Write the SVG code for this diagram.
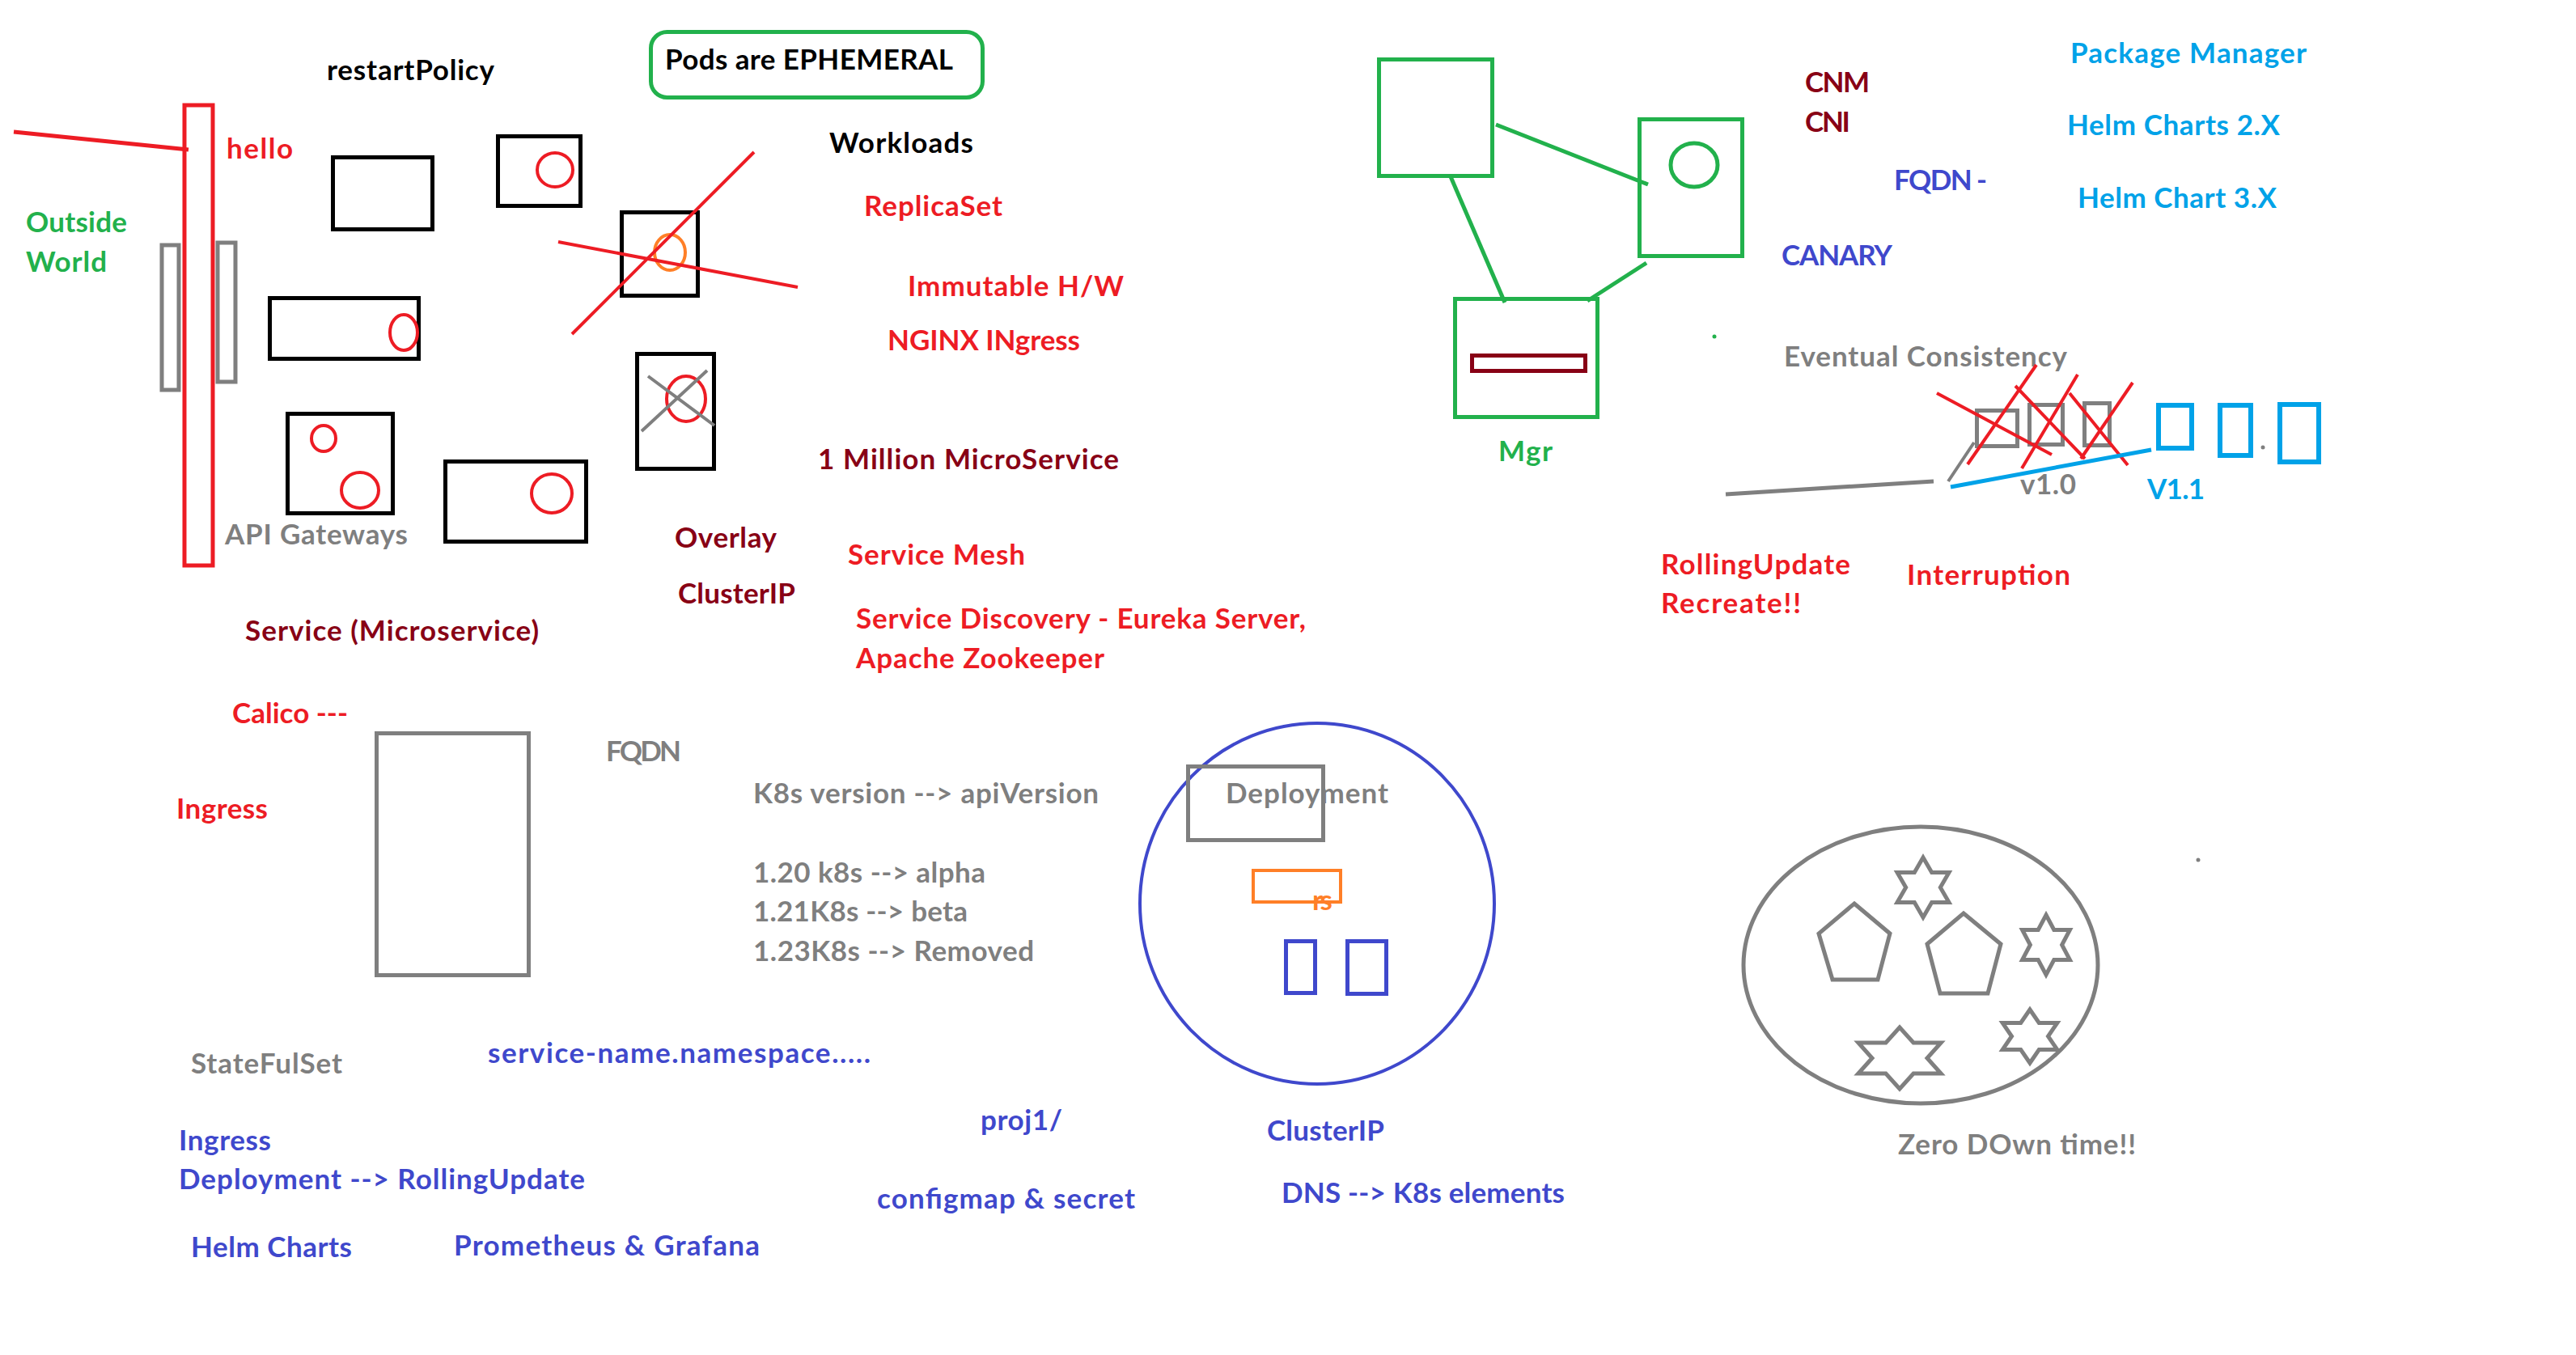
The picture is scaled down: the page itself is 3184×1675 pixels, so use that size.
<svg xmlns="http://www.w3.org/2000/svg" width="3184" height="1675" viewBox="0 0 3184 1675">
<style>
text{font-family:Lato,"Liberation Sans",sans-serif;font-weight:bold;font-size:35px}
.red{fill:#ED1C24}.dred{fill:#880015}.grn{fill:#22B14C}.gry{fill:#7F7F7F}.blu{fill:#3F48CC}.lblu{fill:#00A2E8}.blk{fill:#000}.org{fill:#FF7F27}
.sk{fill:none;stroke:#000;stroke-width:5}
.sr{fill:none;stroke:#ED1C24;stroke-width:5}
.sr4{fill:none;stroke:#ED1C24;stroke-width:4}
.sdr{fill:none;stroke:#880015;stroke-width:5}
.sg{fill:none;stroke:#22B14C;stroke-width:5}
.sgy{fill:none;stroke:#7F7F7F;stroke-width:5}
.sb{fill:none;stroke:#3F48CC;stroke-width:5}
.slb{fill:none;stroke:#00A2E8;stroke-width:6}
.so{fill:none;stroke:#FF7F27;stroke-width:4}
</style>
<rect width="3184" height="1675" fill="#fff"/>

<g id="outside-world">
<text class="grn" x="32" y="287" textLength="125">Outside</text>
<text class="grn" x="32" y="336" textLength="100">World</text>
<line class="sr" x1="17" y1="163" x2="233" y2="185"/>
</g>
<g id="gateway">
<rect class="sr" x="228" y="130" width="35" height="569"/>
<rect class="sgy" x="200" y="303" width="21" height="179"/>
<rect class="sgy" x="269" y="300" width="22" height="172"/>
<text class="red" x="280" y="196" textLength="82">hello</text>
<text class="gry" x="278" y="673" textLength="226">API Gateways</text>
</g>
<g id="restart-policy"><text class="blk" x="404" y="99" textLength="207">restartPolicy</text></g>
<g id="pods-ephemeral">
<rect class="sg" x="804.5" y="39.5" width="410" height="81" rx="20"/>
<text class="blk" x="822" y="86" textLength="356">Pods are EPHEMERAL</text>
</g>

<g id="pods">
<rect class="sk" x="411.5" y="194.5" width="123" height="89"/>
<g id="pod2"><rect class="sk" x="615.5" y="168.5" width="102" height="86"/><ellipse class="sr4" cx="686" cy="210" rx="22" ry="21"/></g>
<g id="pod3"><rect class="sk" x="768.5" y="262.5" width="94" height="103"/><ellipse class="so" cx="828" cy="312" rx="19" ry="22"/>
<line class="sr4" x1="932" y1="188" x2="707" y2="413"/><line class="sr4" x1="690" y1="299" x2="986" y2="355"/></g>
<g id="pod4"><rect class="sk" x="333.5" y="368.5" width="184" height="75"/><ellipse class="sr4" cx="499" cy="411" rx="17" ry="22"/></g>
<g id="pod5"><rect class="sk" x="355.5" y="511.5" width="130" height="123"/><ellipse class="sr4" cx="400" cy="542" rx="15" ry="16"/><ellipse class="sr4" cx="445" cy="606" rx="23" ry="22"/></g>
<g id="pod6"><rect class="sk" x="550.5" y="570.5" width="174" height="99"/><ellipse class="sr4" cx="682" cy="610" rx="25" ry="24"/></g>
<g id="pod7"><rect class="sk" x="787.5" y="437.5" width="95" height="142"/><ellipse class="sr4" cx="848" cy="493" rx="24" ry="28"/>
<line class="sgy" style="stroke-width:4" x1="801" y1="465" x2="883" y2="526"/><line class="sgy" style="stroke-width:4" x1="874" y1="458" x2="793" y2="533"/></g>
</g>

<g id="notes-center">
<text class="blk" x="1025" y="189" textLength="178">Workloads</text>
<text class="red" x="1068" y="267" textLength="171">ReplicaSet</text>
<text class="red" x="1122" y="366" textLength="267">Immutable H/W</text>
<text class="red" x="1097" y="433" textLength="238">NGINX INgress</text>
<text class="dred" x="1011" y="580" textLength="372">1 Million MicroService</text>
<text class="dred" x="834" y="677" textLength="126">Overlay</text>
<text class="dred" x="838" y="746" textLength="145">ClusterIP</text>
<text class="red" x="1048" y="698" textLength="219">Service Mesh</text>
<text class="red" x="1058" y="777" textLength="556">Service Discovery - Eureka Server,</text>
<text class="red" x="1058" y="826" textLength="307">Apache Zookeeper</text>
<text class="dred" x="303" y="792" textLength="363">Service (Microservice)</text>
<text class="red" x="287" y="894" textLength="143">Calico ---</text>
<text class="red" x="218" y="1012" textLength="113">Ingress</text>
</g>

<g id="service-box"><rect class="sgy" x="465.5" y="906.5" width="188" height="299"/></g>
<g id="versions">
<text class="gry" x="749" y="941" textLength="93">FQDN</text>
<text class="gry" x="931" y="993" textLength="427">K8s version --&gt; apiVersion</text>
<text class="gry" x="931" y="1091" textLength="287">1.20 k8s --&gt; alpha</text>
<text class="gry" x="931" y="1139" textLength="265">1.21K8s --&gt; beta</text>
<text class="gry" x="931" y="1188" textLength="347">1.23K8s --&gt; Removed</text>
</g>

<g id="cluster-nodes">
<rect class="sg" x="1704.5" y="73.5" width="140" height="144"/>
<g id="node-b"><rect class="sg" x="2026.5" y="147.5" width="127" height="169"/><ellipse class="sg" cx="2094" cy="204" rx="29" ry="27"/></g>
<g id="mgr"><rect class="sg" x="1798.5" y="369.5" width="176" height="146"/><rect class="sdr" x="1819.5" y="439.5" width="140" height="19"/>
<text class="grn" x="1852" y="570" textLength="67">Mgr</text></g>
<circle cx="2119" cy="416" r="2.5" fill="#22B14C"/>
</g>
<g id="connectors">
<line class="sg" x1="1849" y1="154" x2="2037" y2="228"/>
<line class="sg" x1="1792" y1="216" x2="1860" y2="374"/>
<line class="sg" x1="2035" y1="325" x2="1962" y2="372"/>
</g>

<g id="notes-right">
<text class="dred" x="2231" y="114" textLength="80">CNM</text>
<text class="dred" x="2231" y="163" textLength="56">CNI</text>
<text class="blu" x="2341" y="235" textLength="115">FQDN -</text>
<text class="blu" x="2202" y="328" textLength="137">CANARY</text>
<text class="lblu" x="2559" y="78" textLength="292">Package Manager</text>
<text class="lblu" x="2555" y="167" textLength="263">Helm Charts 2.X</text>
<text class="lblu" x="2568" y="257" textLength="246">Helm Chart 3.X</text>
<text class="gry" x="2205" y="453" textLength="350">Eventual Consistency</text>
<text class="red" x="2053" y="710" textLength="234">RollingUpdate</text>
<text class="red" x="2053" y="758" textLength="173">Recreate!!</text>
<text class="red" x="2357" y="723" textLength="202">Interruption</text>
</g>

<g id="rolling-update">
<rect class="sgy" x="2443.5" y="507.5" width="50" height="44"/>
<rect class="sgy" x="2508.5" y="500.5" width="41" height="49"/>
<rect class="sgy" x="2576.5" y="498.5" width="31" height="52"/>
<line class="sr4" x1="2394" y1="486" x2="2536" y2="562"/>
<line class="sr4" x1="2517" y1="451" x2="2432" y2="574"/>
<line class="sr4" x1="2491" y1="477" x2="2577" y2="567"/>
<line class="sr4" x1="2568" y1="463" x2="2499" y2="579"/>
<line class="sr4" x1="2558" y1="486" x2="2630" y2="575"/>
<line class="sr4" x1="2636" y1="473" x2="2572" y2="567"/>
<line class="sgy" x1="2133" y1="611" x2="2390" y2="595"/>
<line class="sgy" style="stroke-width:4" x1="2408" y1="595" x2="2440" y2="547"/>
<line class="slb" style="stroke-width:5" x1="2411" y1="602" x2="2659" y2="556"/>
<rect class="slb" x="2668" y="501" width="41" height="53"/>
<rect class="slb" x="2744" y="501" width="38" height="62"/>
<rect class="slb" x="2818" y="500" width="48" height="71"/>
<circle cx="2797" cy="553" r="2.5" fill="#7F7F7F"/>
<text class="gry" x="2497" y="611" textLength="69">v1.0</text>
<text class="lblu" x="2654" y="617" textLength="71">V1.1</text>
</g>

<g id="deployment-cluster">
<ellipse class="sb" style="stroke-width:4" cx="1628" cy="1117" rx="219" ry="223"/>
<rect class="sgy" x="1468.5" y="947.5" width="167" height="91"/>
<text class="gry" x="1515" y="993" textLength="201">Deployment</text>
<rect class="so" x="1549" y="1076" width="108" height="39"/>
<text class="org" x="1622" y="1125" textLength="25">rs</text>
<rect class="sb" x="1589.5" y="1163.5" width="36" height="64"/>
<rect class="sb" x="1665.5" y="1163.5" width="48" height="65"/>
</g>

<g id="notes-bottom">
<text class="gry" x="236" y="1327" textLength="187">StateFulSet</text>
<text class="blu" x="603" y="1314" textLength="473">service-name.namespace.....</text>
<text class="blu" x="221" y="1422" textLength="114">Ingress</text>
<text class="blu" x="221" y="1470" textLength="502">Deployment --&gt; RollingUpdate</text>
<text class="blu" x="236" y="1554" textLength="199">Helm Charts</text>
<text class="blu" x="561" y="1552" textLength="378">Prometheus &amp; Grafana</text>
<text class="blu" x="1212" y="1397" textLength="101">proj1/</text>
<text class="blu" x="1084" y="1494" textLength="319">configmap &amp; secret</text>
<text class="blu" x="1566" y="1410" textLength="145">ClusterIP</text>
<text class="blu" x="1584" y="1487" textLength="350">DNS --&gt; K8s elements</text>
</g>

<g id="zero-downtime">
<ellipse class="sgy" cx="2374" cy="1193" rx="219" ry="171"/>
<polygon class="sgy" points="2292,1117 2336,1154 2321,1211 2265,1211 2248,1154"/>
<polygon class="sgy" points="2427,1129 2473,1167 2457,1228 2398,1228 2382,1167"/>
<polygon class="sgy" points="2377,1060 2387.7,1078.5 2409,1078.5 2398.3,1097 2409,1115.5 2387.7,1115.5 2377,1134 2366.3,1115.5 2345,1115.5 2355.7,1097 2345,1078.5 2366.3,1078.5"/>
<polygon class="sgy" points="2529,1131 2538.8,1149.5 2558.4,1149.5 2548.6,1168 2558.4,1186.5 2538.8,1186.5 2529,1205 2519.2,1186.5 2499.6,1186.5 2509.4,1168 2499.6,1149.5 2519.2,1149.5"/>
<polygon class="sgy" points="2509,1248 2520.3,1264.5 2542.8,1264.5 2531.5,1281 2542.8,1297.5 2520.3,1297.5 2509,1314 2497.7,1297.5 2475.2,1297.5 2486.5,1281 2475.2,1264.5 2497.7,1264.5"/>
<polygon class="sgy" points="2348,1270 2365.1,1289 2399.1,1289 2382,1308 2399.1,1327 2365.1,1327 2348,1346 2330.9,1327 2296.9,1327 2314,1308 2296.9,1289 2330.9,1289"/>
<text class="gry" x="2346" y="1427" textLength="294">Zero DOwn time!!</text>
<circle cx="2717" cy="1063" r="2.5" fill="#7F7F7F"/>
</g>
</svg>
